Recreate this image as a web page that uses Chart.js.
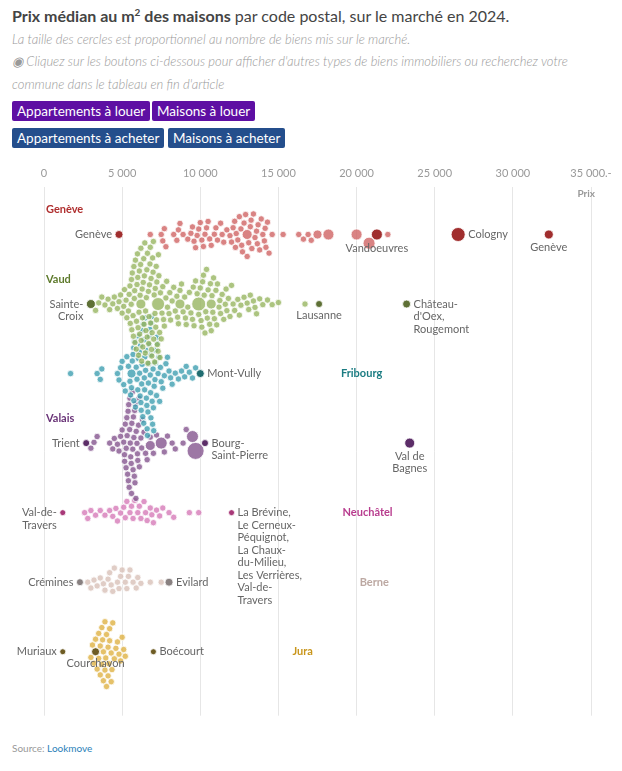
<!DOCTYPE html>
<html><head><meta charset="utf-8">
<script src="https://cdn.jsdelivr.net/npm/chart.js@4/dist/chart.umd.min.js"></script>
<style>
body{margin:0;width:622px;height:771px;font-family:Lato,"Open Sans",sans-serif;color:#333;background:#fff;position:relative;overflow:hidden}
#t{position:absolute;left:12px;top:6px;font-size:16px;color:#444}
#t sup{font-size:10px}
.s{position:absolute;left:12px;font-size:13px;font-style:italic;color:#999;font-weight:300}
.b{position:absolute;height:20px;line-height:20px;padding:0 5px;color:#fff;font-size:13.5px;border-radius:2px}
#wrap{position:absolute;left:0;top:160px;width:622px;height:565px}
#src{position:absolute;left:12px;top:742px;font-size:10px;color:#999}
#src span{color:#2a7fb8}
</style></head><body>
<div id="t"><b>Prix médian au m<sup>2</sup> des maisons</b> par code postal, sur le marché en 2024.</div>
<div class="s" style="top:31px">La taille des cercles est proportionnel au nombre de biens mis sur le marché.</div>
<div class="s" style="top:53px">◉ Cliquez sur les boutons ci-dessous pour afficher d'autres types de biens immobiliers ou recherchez votre</div>
<div class="s" style="top:76px">commune dans le tableau en fin d'article</div>
<div class="b" style="left:12px;top:101px;background:#5e0fa3">Appartements à louer</div>
<div class="b" style="left:152px;top:101px;background:#5e0fa3">Maisons à louer</div>
<div class="b" style="left:12px;top:128px;background:#244e8c">Appartements à acheter</div>
<div class="b" style="left:168px;top:128px;background:#244e8c">Maisons à acheter</div>
<div id="wrap"><canvas id="c"></canvas></div>
<div id="src">Source: <span>Lookmove</span></div>
<script>
const cantons=["Genève","Vaud","Fribourg","Valais","Neuchâtel","Berne","Jura"];
const colors=["#d06464","#97b560","#3e9fb0","#84558f","#d67ab8","#d8c0b8","#dfb143"];
const darkColors=["#a02e2e","#5e7035","#1f6c70","#5c2d68","#a83878","#888080","#6e5c24"];
const nameX=[0,0,19000,0,19100,20200,15900];
const nameColors=["#b03030","#5e7a2c","#1b7c82","#6a3478","#b83c8e","#bca8a2","#c9961c"];
const vGe=[6800,7500,7600,7700,7800,8300,8500,8600,8700,8900,9200,9400,9500,9600,9700,9800,9900,10000,10100,10200,10300,10400,10500,10600,10700,10900,11000,11100,11300,11500,11700,11900,12000,12100,12200,12300,12400,12500,12600,12700,12800,12900,13000,13100,13200,13300,13400,13500,13600,13700,13800,13900,14000,14100,14200,14300,14400,14600,15300,16300,16600,16900,17100,22000,11400,12250,12650,13250,13650,14150];
const vVd=[3300,3500,3700,3900,4100,4200,4400,4500,4700,4800,4900,5000,5100,5150,5250,5300,5400,5450,5500,5600,5650,5700,5750,5800,5850,5900,5950,6000,6050,6100,6150,6200,6250,6300,6350,6400,6450,6500,6550,6600,6650,6700,6750,6800,6850,6900,6950,7000,7050,7100,7150,7200,7250,7300,7350,7400,7450,7500,7550,7600,7650,7700,7800,7850,7900,8000,8100,8200,8300,8400,8500,8600,8700,8800,8900,9000,9100,9200,9300,9400,9500,9600,9700,9800,9900,10000,10100,10200,10300,10400,10500,10600,10700,10800,10900,11000,11100,11200,11300,11400,11500,11600,11700,11800,11900,12000,12200,12400,12600,12800,13000,13200,13400,13600,13800,14000,14300,14600,15000,16700,5520,5620,5720,5820,5920,6020,6120,6220,6320,6420,6520,6620,6720,6820,6920,7020,7120,7220,7320,7420,6080,6280,6480,6680,6880,7080,10050,10250,10450,10650,10850,11050,10150,10350,10750,5580,5780,5980,6180,6380,6580,6780,6980,7180,8050,8550,9050,9550,11250,11650,12100,12500,13100,13500];
const vFr=[1700,3400,3600,3700,4700,4800,4900,5000,5100,5200,5300,5400,5500,5600,5650,5700,5750,5800,5850,5900,5950,6000,6050,6100,6150,6200,6250,6300,6350,6400,6450,6500,6550,6600,6650,6700,6750,6800,6850,6900,6950,7000,7050,7100,7150,7200,7250,7300,7350,7400,7450,7500,7600,7700,7800,7900,8000,8100,8200,8400,8600,8800,9000,6120,6220,6320,6420,6520,6620,6720,6820,6920,7020,7120,6180,6380,6580,6780,6980,6280,6480,6680,6880,9100,9300,9500,9700,6040,6440,6840,7240,5540,5740];
const vVs=[3000,3200,3400,4200,4400,4500,4700,4800,4900,5000,5100,5150,5200,5250,5300,5350,5400,5450,5500,5550,5600,5650,5700,5750,5800,5850,5900,5950,6000,6050,6100,6200,6300,6400,6500,6600,6800,7000,7200,7700,7900,8200,8400,8900,9100,5320,5420,5520,5620,5720,5820,5480,5580,5680,5380,5780,5880,5980,6080,6250,5260,5160];
const vNe=[2600,2800,3000,3300,3600,3900,4200,4400,4700,4900,5100,5300,5500,5700,5800,6000,6200,6400,6600,6800,7000,7200,7400,7600,8000,8300,9300,9900,5600,6100,6500,6900,4600,5200];
const vBe=[2800,3000,3200,3400,3600,3800,3900,4100,4200,4400,4500,4700,4800,5000,5200,5400,5500,5700,5900,6000,6200,6800,7500,4300,4900,5300];
const vJu=[3000,3100,3200,3300,3400,3500,3600,3700,3800,3900,4000,4100,4200,4300,4400,4500,4600,4700,4800,4900,5000,5100,5200,3500,3700,3900,4100,4300,3600,3800,4000,4200,3750,3950,4150,4350];
const values=[vGe,vVd,vFr,vVs,vNe,vBe,vJu];
// larger circles: [value, radius]
const bigs=[[[18200,5.5],[20000,5.5],[20800,6],[17500,4.5],[13000,5]],[[7300,6.5],[9900,7],[10700,5],[6200,5],[8700,5]],[[5600,4.5]],[[7500,6],[9500,6],[9700,8.5],[6800,5]],[],[],[]];
const named=[[[4800,"Genève","l",4],[21300,"Vandoeuvres","b",5.5],[26500,"Cologny","r",7],[32300,"Genève","b",4.5]],
 [[3000,"Sainte-\nCroix","l",4.5],[17600,"Lausanne","b",3.5],[23200,"Château-\nd'Oex,\nRougemont","r",4]],
 [[10000,"Mont-Vully","r",4]],
 [[2700,"Trient","l",3.5],[10300,"Bourg-\nSaint-Pierre","r",3.5],[23400,"Val de\nBagnes","b",5]],
 [[1200,"Val-de-\nTravers","l",3],[12000,"La Brévine,\nLe Cerneux-\nPéquignot,\nLa Chaux-\ndu-Milieu,\nLes Verrières,\nVal-de-\nTravers","r",3]],
 [[2300,"Crémines","l",3.5],[8000,"Evilard","r",4]],
 [[1200,"Muriaux","l",3],[3300,"Courchavon","b",4],[7000,"Boécourt","r",3]]];
const xTicks=[0,5000,10000,15000,20000,25000,30000,35000];

const datasets=cantons.map((c,i)=>{
  const pts=[];
  values[i].forEach(v=>pts.push({x:v,y:i+1,r:3.2,row:i+1,col:colors[i]+"cc"}));
  bigs[i].forEach(b=>pts.push({x:b[0],y:i+1,r:b[1],row:i+1,col:colors[i]+"cc"}));
  named[i].forEach(n=>pts.push({x:n[0],y:i+1,r:n[3],row:i+1,col:darkColors[i],label:n[1],side:n[2]}));
  return {label:c,data:pts,backgroundColor:pts.map(p=>p.col),borderColor:"#fff",borderWidth:0.8,hoverRadius:0};
});

function swarmLayout(ch){
  const xs=ch.scales.x, ys=ch.scales.y, unit=Math.abs(ys.getPixelForValue(2)-ys.getPixelForValue(1));
  ch.data.datasets.forEach(ds=>{
    const items=ds.data.map(p=>Object.assign({},p)).sort((a,b)=>(b.label?1:0)-(a.label?1:0)||b.r-a.r||a.x-b.x);
    const placed=[];
    items.forEach(p=>{
      const px=xs.getPixelForValue(p.x);
      if(p.label){p.y=p.row;placed.push({px,py:0,r:p.r});return;}
      const cands=[0];
      placed.forEach(q=>{const d=p.r+q.r+0.2,dx=px-q.px;if(Math.abs(dx)<d){const h=Math.sqrt(d*d-dx*dx);cands.push(q.py+h,q.py-h);}});
      cands.sort((a,b)=>Math.abs(a)-Math.abs(b));
      let best=0;
      for(const c of cands){if(placed.every(q=>{const d=p.r+q.r+0.2;return (px-q.px)**2+(c-q.py)**2>=d*d-0.01;})){best=c;break;}}
      placed.push({px,py:best,r:p.r});
      p.y=p.row+best/unit;
    });
    ds.data=items;
    ds.backgroundColor=items.map(p=>p.col);
  });
  ch.update("none");
}
const labels={id:"labels",afterDatasetsDraw(ch){
  const c=ch.ctx,xs=ch.scales.x,ys=ch.scales.y;
  c.save();
  ch.data.datasets.forEach((ds,i)=>{
    ds.data.forEach(p=>{ if(!p.label) return;
      const px=xs.getPixelForValue(p.x),py=ys.getPixelForValue(p.y),lines=p.label.split("\n");
      c.font="11px Lato, sans-serif";c.fillStyle="#666";c.textBaseline="middle";
      lines.forEach((l,k)=>{
        if(p.side==="l"){c.textAlign="right";c.fillText(l,px-p.r-3,py+k*12.5);}
        else if(p.side==="r"){c.textAlign="left";c.fillText(l,px+p.r+3,py+k*12.5);}
        else {c.textAlign="center";c.fillText(l,px,py+p.r+8+k*12.5);}
      });
    });
    c.font="bold 11px Lato, sans-serif";c.fillStyle=nameColors[i];c.textAlign="left";c.textBaseline="middle";
    const nx=xs.getPixelForValue(nameX[i]);
    if(nameX[i]===0) c.fillText(ds.label,nx+2,ys.getPixelForValue(i+1-0.36));
    else c.fillText(ds.label,nx,ys.getPixelForValue(i+1));
  });
  c.font="bold 10px Lato, sans-serif";c.fillStyle="#999";c.textAlign="right";
  c.fillText("Prix",xs.getPixelForValue(35000)+4,ys.getPixelForValue(0.42));
  c.restore();
}};
const chart=new Chart(document.getElementById("c"),{type:"bubble",data:{datasets},
 plugins:[labels],
 options:{responsive:true,maintainAspectRatio:false,animation:false,
  layout:{padding:{left:44,right:31,top:0,bottom:0}},
  plugins:{legend:{display:false},tooltip:{enabled:false}},
  scales:{
   x:{type:"linear",position:"top",min:0,max:35000,afterBuildTicks:a=>{a.ticks=xTicks.map(v=>({value:v}));},
      ticks:{color:"#999",font:{size:11,family:"Lato"},maxRotation:0,padding:7,
        callback:v=>(v===35000?"35 000.-":String(v).replace(/\B(?=(\d{3})+(?!\d))/g," "))},
      grid:{color:"#e6e6e6",drawTicks:false},border:{display:false}},
   y:{display:false,reverse:true,min:0.32,max:7.92}
  }}});
swarmLayout(chart);
</script></body></html>
